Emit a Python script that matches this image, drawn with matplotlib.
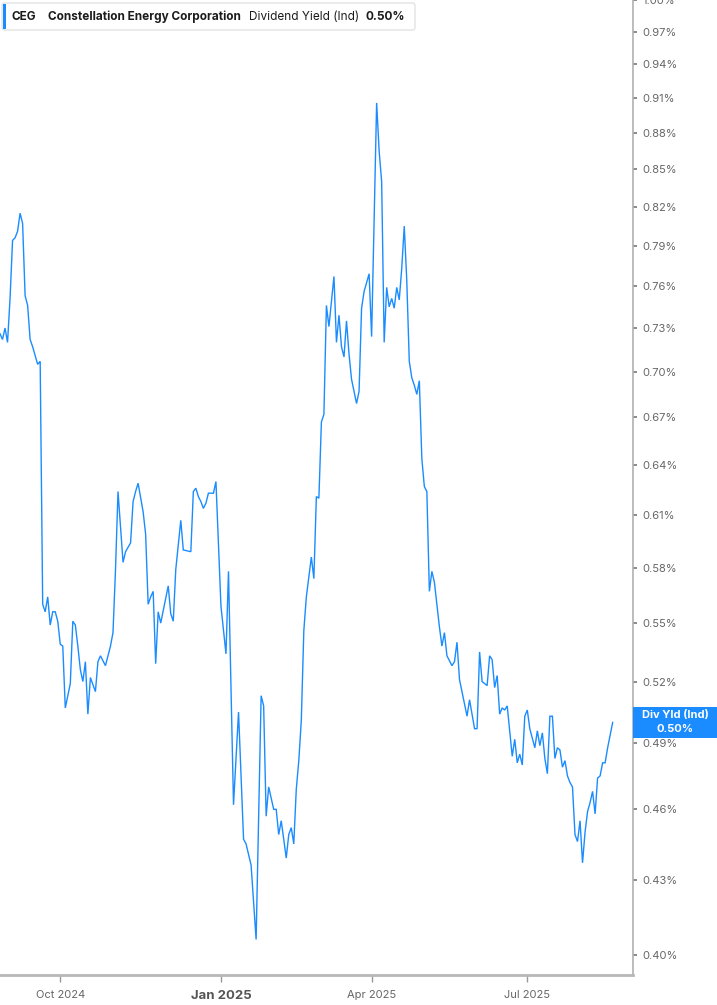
import matplotlib
matplotlib.use("Agg")
import matplotlib.pyplot as plt
from matplotlib.patches import FancyBboxPatch, Rectangle
from matplotlib.ticker import FixedLocator, NullLocator

plt.rcParams['font.family'] = ['Inter', 'DejaVu Sans']

# ---------------- data ----------------
ticker_symbol = "CEG"
company_name = "Constellation Energy Corporation"
metric_name = "Dividend Yield (Ind)"
metric_short = "Div Yld (Ind)"

# trading-day number (0 = first session shown, late Aug 2024)
day_idx = [
    0, 1, 2, 3, 4, 5, 6, 7, 8, 9, 10, 11, 12, 13, 14, 15, 16, 17, 18, 19,
    20, 21, 22, 23, 24, 25, 26, 28, 29, 30, 31, 32, 33, 34, 35, 36,
    38, 39, 40, 42, 44, 45, 46, 47, 48, 49, 50, 52, 53, 54, 55, 57, 58, 59,
    60, 61, 62, 63, 64, 67, 68, 69, 70, 72, 73, 76, 77, 78, 79, 80, 81, 82,
    83, 85, 86,
    88, 90, 91, 93, 95, 97, 98, 100, 102, 104, 105, 106, 107, 109, 110, 111,
    112, 114, 115, 116, 117, 118, 119, 120, 121, 122, 124, 125, 126, 127,
    128, 129, 130, 131, 133, 134, 135, 136, 137, 138, 139, 140, 142, 143,
    144, 145, 147,
    148, 150, 151, 152, 153, 154, 155, 156, 157, 158, 159, 160, 161, 162,
    163, 164, 165, 166, 167, 168, 169, 170, 171, 172, 173, 175, 176, 177,
    178, 180, 181, 182, 183, 186, 187, 189, 190, 191, 192, 194, 195, 196,
    197, 198, 199, 200, 201, 202, 204, 205, 206, 207, 208, 209,
    210, 211, 213, 214, 215, 216, 217, 218, 219, 220, 221, 222, 223, 224,
    225, 226, 227, 228, 229, 230, 231, 232, 233, 234, 235, 236, 237, 238,
    239, 240, 241, 242, 243, 244,
]

# dividend yield, %
yield_pct = [
    0.726, 0.722, 0.730, 0.720, 0.751, 0.794, 0.796, 0.801, 0.815, 0.807,
    0.753, 0.746, 0.722, 0.717, 0.711, 0.705, 0.707, 0.560, 0.556, 0.564,
    0.549, 0.556, 0.556, 0.551, 0.539, 0.538, 0.507, 0.519, 0.551, 0.549,
    0.538, 0.526, 0.520, 0.530, 0.504, 0.522,
    0.515, 0.530, 0.533, 0.528, 0.538, 0.545, 0.579, 0.624, 0.603, 0.583,
    0.589, 0.594, 0.618, 0.624, 0.629, 0.612, 0.599, 0.560,
    0.564, 0.567, 0.529, 0.556, 0.550, 0.570, 0.555, 0.551, 0.579, 0.607,
    0.590, 0.589, 0.624, 0.626, 0.621, 0.618, 0.614, 0.617,
    0.623, 0.623, 0.630,
    0.559, 0.534, 0.578, 0.462, 0.505, 0.447, 0.445, 0.436, 0.406, 0.513,
    0.508, 0.457, 0.470, 0.460, 0.460, 0.449,
    0.455, 0.439, 0.449, 0.452, 0.445, 0.469, 0.482, 0.501, 0.546, 0.564,
    0.586, 0.574, 0.621, 0.620,
    0.667, 0.672, 0.746, 0.731, 0.767, 0.720, 0.739, 0.717, 0.710, 0.735,
    0.712, 0.695, 0.679, 0.687,
    0.744, 0.756, 0.769,
    0.724, 0.906, 0.865, 0.840, 0.720, 0.759, 0.745, 0.751, 0.744, 0.759,
    0.750, 0.773, 0.805, 0.764,
    0.707, 0.696, 0.691, 0.685, 0.694, 0.644, 0.627, 0.624, 0.567, 0.578,
    0.572, 0.548, 0.538, 0.545,
    0.533, 0.528, 0.530, 0.540, 0.521, 0.503, 0.511, 0.497, 0.497, 0.535,
    0.520, 0.518, 0.533, 0.531,
    0.517, 0.523, 0.504, 0.507, 0.506, 0.508, 0.484, 0.492, 0.481, 0.485,
    0.480, 0.503,
    0.506, 0.497, 0.488, 0.496, 0.489, 0.495, 0.483, 0.476, 0.503, 0.503,
    0.483, 0.488, 0.487, 0.479,
    0.482, 0.475, 0.472, 0.470, 0.449, 0.446, 0.455, 0.437, 0.450, 0.459,
    0.463, 0.468, 0.458, 0.474,
    0.475, 0.481, 0.481, 0.488, 0.494, 0.500,
]

x_tick_days = [24, 88, 148, 210]
x_tick_labels = ["Oct 2024", "Jan 2025", "Apr 2025", "Jul 2025"]
y_tick_values = [0.40, 0.43, 0.46, 0.49, 0.52, 0.55, 0.58, 0.61, 0.64, 0.67,
                 0.70, 0.73, 0.76, 0.79, 0.82, 0.85, 0.88, 0.91, 0.94, 0.97, 1.00]

# ---------------- figure ----------------
W, H = 717, 1005
BLUE = '#1a8cff'
fig = plt.figure(figsize=(W / 100, H / 100), dpi=100)
ax = fig.add_axes([0, 30 / H, 633 / W, 975 / H])

ax.plot(day_idx, yield_pct, color=BLUE, lw=1.0, solid_joinstyle='miter')

ax.set_yscale('log')
ax.set_ylim(0.3924, 1.0)
ax.set_xlim(0, 252.1)

ax.yaxis.tick_right()
ax.yaxis.set_major_locator(FixedLocator(y_tick_values))
ax.yaxis.set_minor_locator(NullLocator())
ax.set_yticklabels([f"{v:.2f}%" for v in y_tick_values])
ax.tick_params(axis='y', which='major', length=3, width=1.2, color='#777777',
               pad=4, labelsize=8, labelcolor='#666666')

ax.xaxis.set_major_locator(FixedLocator(x_tick_days))
ax.xaxis.set_minor_locator(NullLocator())
ax.set_xticklabels(x_tick_labels)
ax.tick_params(axis='x', which='major', length=5, width=1, color='#999999',
               pad=6, labelsize=8, labelcolor='#666666')
for lbl in ax.get_xticklabels():
    if lbl.get_text().startswith("Jan"):
        lbl.set_fontweight('bold')
        lbl.set_fontsize(9.5)
        lbl.set_color('#555555')

for s in ('left', 'top'):
    ax.spines[s].set_visible(False)
ax.spines['right'].set_color('#b0b0b0')
ax.spines['right'].set_linewidth(1.2)
ax.spines['bottom'].set_color('#b8b8b8')
ax.spines['bottom'].set_linewidth(2)

# ---------------- legend header ----------------
hdr = FancyBboxPatch((2 / W, 1 - 30 / H), 413 / W, 27 / H,
                     boxstyle='round,pad=0,rounding_size=0.003',
                     transform=fig.transFigure, fc='white', ec='#e3e3e3', lw=1)
fig.add_artist(hdr)
fig.add_artist(Rectangle((3 / W, 1 - 29 / H), 3 / W, 25 / H,
                         transform=fig.transFigure, fc=BLUE, ec='none'))
ty = 1 - 17 / H
fig.text(12 / W, ty, ticker_symbol, fontsize=8.5, fontweight='bold',
         color='#1c1c1c', va='center', ha='left')
fig.text(48 / W, ty, company_name, fontsize=8.5, fontweight='bold',
         color='#1c1c1c', va='center', ha='left')
fig.text(249 / W, ty, metric_name, fontsize=8.5, color='#1c1c1c',
         va='center', ha='left')
fig.text(365 / W, ty, f"{yield_pct[-1]:.2f}%", fontsize=8.5, fontweight='bold',
         color='#1c1c1c', va='center', ha='left')

# ---------------- last value tag ----------------
fig.canvas.draw()
y_px = ax.transData.transform((day_idx[-1], yield_pct[-1]))[1]
tag_h = 31
fig.add_artist(Rectangle((633 / W, (y_px - tag_h / 2) / H), 84 / W, tag_h / H,
                         transform=fig.transFigure, fc=BLUE, ec='none'))
fig.text(675 / W, (y_px + 7) / H, metric_short, fontsize=8, fontweight='bold',
         color='white', ha='center', va='center')
fig.text(675 / W, (y_px - 7) / H, f"{yield_pct[-1]:.2f}%", fontsize=8,
         fontweight='bold', color='white', ha='center', va='center')

fig.savefig("out.png", dpi=100)
